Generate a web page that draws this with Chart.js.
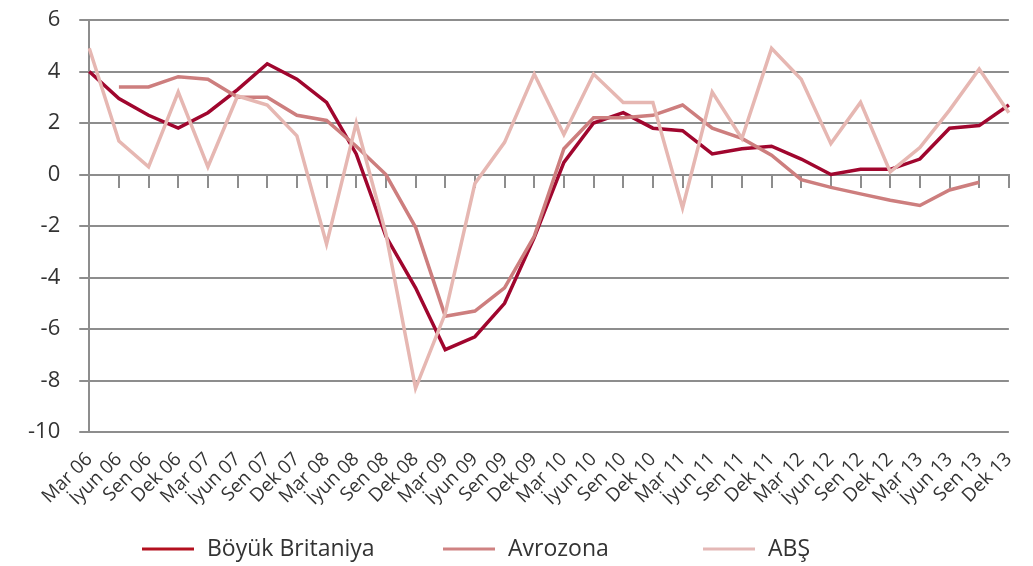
<!DOCTYPE html>
<html lang="az">
<head>
    <meta charset="UTF-8">
    <title>Böyük Britaniya, Avrozona, ABŞ</title>
    <script src="https://cdn.jsdelivr.net/npm/chart.js"></script>
    <style>
        body { margin: 0; background: #fff; }
        #wrap { width: 1033px; height: 566px; }
    </style>
</head>
<body>
    <div id="wrap"><canvas id="chart"></canvas></div>

    <script>
        // quarters
        const labels = [
            'Mar 06', 'İyun 06', 'Sen 06', 'Dek 06',
            'Mar 07', 'İyun 07', 'Sen 07', 'Dek 07',
            'Mar 08', 'İyun 08', 'Sen 08', 'Dek 08',
            'Mar 09', 'İyun 09', 'Sen 09', 'Dek 09',
            'Mar 10', 'İyun 10', 'Sen 10', 'Dek 10',
            'Mar 11', 'İyun 11', 'Sen 11', 'Dek 11',
            'Mar 12', 'İyun 12', 'Sen 12', 'Dek 12',
            'Mar 13', 'İyun 13', 'Sen 13', 'Dek 13'
        ];

        const britain = [4.0, 2.95, 2.3, 1.8, 2.4, 3.3, 4.3, 3.7, 2.8, 0.8, -2.4, -4.4,
            -6.8, -6.3, -5.0, -2.45, 0.47, 2.0, 2.4, 1.8, 1.7, 0.8, 1.0, 1.1,
            0.6, 0.0, 0.2, 0.2, 0.6, 1.8, 1.9, 2.7];

        const eurozone = [null, 3.4, 3.4, 3.8, 3.7, 3.0, 3.0, 2.3, 2.1, 1.1, 0.0, -2.05,
            -5.5, -5.3, -4.4, -2.4, 1.0, 2.2, 2.2, 2.3, 2.7, 1.8, 1.4, 0.75,
            -0.2, -0.5, -0.75, -1.0, -1.2, -0.6, -0.3, null];

        const usa = [4.9, 1.3, 0.3, 3.2, 0.3, 3.05, 2.7, 1.5, -2.7, 2.0, -2.3, -8.3,
            -5.4, -0.35, 1.25, 3.9, 1.55, 3.9, 2.8, 2.8, -1.3, 3.2, 1.4, 4.9,
            3.7, 1.2, 2.8, 0.1, 1.05, 2.5, 4.1, 2.4];

        const yTicks = [-10, -8, -6, -4, -2, 0, 2, 4, 6];

        const gridGray = '#8d8d8d';
        const textColor = '#333333';

        // legend drawn under the axis labels, line sample + text
        const bottomLegend = {
            id: 'bottomLegend',
            afterDraw: function (chart, args, opts) {
                const c = chart.ctx;
                c.save();
                c.font = opts.size + 'px ' + opts.family;
                c.textBaseline = 'middle';
                chart.data.datasets.forEach(function (ds, i) {
                    const x = opts.starts[i];
                    c.fillStyle = ds.legendColor;
                    c.fillRect(x, opts.y - 1.5, opts.lineWidth, 3);
                    c.fillStyle = textColor;
                    c.fillText(ds.label, x + opts.lineWidth + 13, opts.y);
                });
                c.restore();
            }
        };

        const ctx = document.getElementById('chart').getContext('2d');
        const chart = new Chart(ctx, {
            type: 'line',
            data: {
                labels: labels,
                datasets: [
                    { label: 'Böyük Britaniya', data: britain, borderColor: '#a0062e', legendColor: '#b3101f' },
                    { label: 'Avrozona', data: eurozone, borderColor: '#cd7e7e', legendColor: '#cf8282' },
                    { label: 'ABŞ', data: usa, borderColor: '#e6b7b2', legendColor: '#e4b8b6' }
                ].map(function (ds, i) {
                    ds.borderWidth = 3.5;
                    ds.pointRadius = 0;
                    ds.tension = 0;
                    ds.fill = false;
                    ds.order = 2 - i;
                    return ds;
                })
            },
            options: {
                responsive: true,
                maintainAspectRatio: false,
                animation: false,
                layout: { padding: { top: 20, right: 21, bottom: 48, left: 9 } },
                scales: {
                    x: {
                        offset: false,
                        grid: { display: false },
                        border: { display: false },
                        ticks: {
                            autoSkip: false,
                            maxRotation: 45,
                            minRotation: 45,
                            padding: 8,
                            color: textColor,
                            font: { family: 'Open Sans', size: 19 }
                        }
                    },
                    x2: {
                        type: 'category',
                        labels: labels,
                        offset: false,
                        position: { y: 0 },
                        grid: { drawOnChartArea: false, color: gridGray, lineWidth: 2, tickLength: 12 },
                        border: { display: true, color: gridGray, width: 2 },
                        ticks: { display: false }
                    },
                    y: {
                        min: -10,
                        max: 6,
                        afterBuildTicks: function (axis) {
                            axis.ticks = yTicks.map(function (v) { return { value: v }; });
                        },
                        // label padding should not push the plot down
                        afterFit: function (axis) {
                            axis.paddingTop = 0;
                            axis.paddingBottom = 0;
                        },
                        grid: { color: gridGray, lineWidth: 2, tickLength: 10 },
                        border: { color: gridGray, width: 2 },
                        ticks: {
                            padding: 19,
                            color: textColor,
                            font: { family: 'Open Sans', size: 22 }
                        }
                    }
                },
                plugins: {
                    tooltip: { enabled: false },
                    legend: { display: false },
                    bottomLegend: {
                        starts: [142, 443, 703],
                        y: 549,
                        lineWidth: 52,
                        family: 'Open Sans',
                        size: 23
                    }
                }
            },
            plugins: [bottomLegend]
        });
    </script>
</body>
</html>
